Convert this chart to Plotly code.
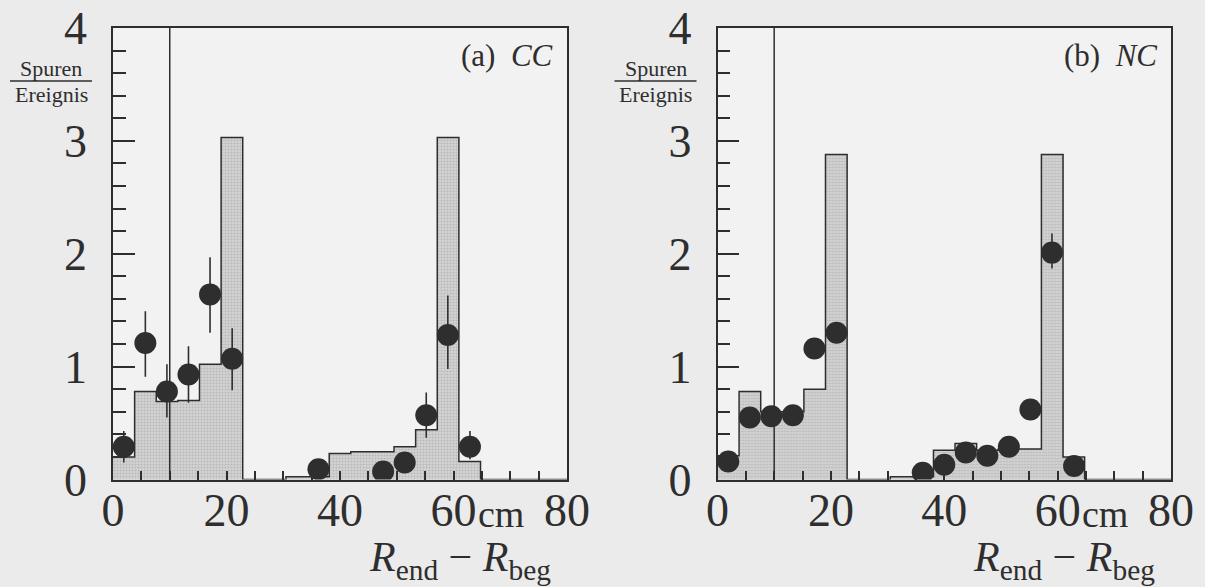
import plotly.graph_objects as go

# ---------------- data ----------------
bin_edges = [0.0, 3.81, 7.62, 11.43, 15.24, 19.05, 22.86, 26.67, 30.48, 34.29, 38.10,
             41.90, 45.71, 49.52, 53.33, 57.14, 60.95, 64.76, 68.57, 72.38, 76.19, 80.0]

cc_hist = [0.20, 0.78, 0.69, 0.70, 1.02, 3.03, 0.0, 0.0, 0.025, 0.025, 0.23,
           0.245, 0.245, 0.29, 0.44, 3.03, 0.16, 0.0, 0.0, 0.0, 0.0]
nc_hist = [0.21, 0.78, 0.60, 0.60, 0.80, 2.88, 0.0, 0.0, 0.025, 0.025, 0.26,
           0.32, 0.26, 0.27, 0.27, 2.88, 0.20, 0.0, 0.0, 0.0, 0.0]

cc_x = [1.9, 5.7, 9.5, 13.3, 17.1, 21.0, 36.2, 47.6, 51.4, 55.2, 59.0, 62.9]
cc_y = [0.29, 1.21, 0.78, 0.93, 1.64, 1.07, 0.09, 0.07, 0.15, 0.57, 1.28, 0.29]
cc_err_plus = [0.14, 0.28, 0.24, 0.25, 0.33, 0.27, 0.04, 0.04, 0.06, 0.20, 0.35, 0.14]
cc_err_minus = [0.14, 0.30, 0.23, 0.25, 0.34, 0.28, 0.04, 0.04, 0.06, 0.20, 0.30, 0.11]

nc_x = [1.9, 5.7, 9.5, 13.3, 17.1, 21.0, 36.2, 40.0, 43.8, 47.6, 51.4, 55.2, 59.0, 62.9]
nc_y = [0.16, 0.55, 0.56, 0.57, 1.16, 1.30, 0.06, 0.13, 0.24, 0.21, 0.29, 0.62, 2.01, 0.12]
nc_err_plus = [0.05, 0.05, 0.05, 0.05, 0.08, 0.08, 0.03, 0.04, 0.05, 0.05, 0.05, 0.06, 0.17, 0.05]
nc_err_minus = [0.05, 0.05, 0.05, 0.05, 0.08, 0.08, 0.03, 0.04, 0.05, 0.05, 0.05, 0.06, 0.14, 0.05]

cut_position = [10]
x_tick_values = [0, 20, 40, 60, 80]
x_tick_labels = ["0", "20", "40", "60", "80"]
y_tick_values = [0, 1, 2, 3, 4]
y_tick_labels = ["0", "1", "2", "3", "4"]
panel_labels = ["(a)  <i>CC</i>", "(b)  <i>NC</i>"]

# ---------------- style ----------------
W, H = 1205, 587
INK = "#2e2e2e"
FONT = "Liberation Serif"
FILL = "#cccccc"

panels = [
    dict(hist=cc_hist, x=cc_x, y=cc_y, ep=cc_err_plus, em=cc_err_minus,
         xdom=[113 / W, 567 / W], label=panel_labels[0]),
    dict(hist=nc_hist, x=nc_x, y=nc_y, ep=nc_err_plus, em=nc_err_minus,
         xdom=[717.5 / W, 1171 / W], label=panel_labels[1]),
]
ydom = [1 - 479.5 / H, 1 - 28 / H]

fig = go.Figure()
centers = [(a + b) / 2 for a, b in zip(bin_edges[:-1], bin_edges[1:])]
widths = [b - a for a, b in zip(bin_edges[:-1], bin_edges[1:])]

for i, p in enumerate(panels):
    xa = "x" if i == 0 else f"x{i+1}"
    ya = "y" if i == 0 else f"y{i+1}"
    # shaded histogram fill
    fig.add_trace(go.Bar(
        x=centers, y=p["hist"], width=widths, xaxis=xa, yaxis=ya,
        marker=dict(color=FILL, line=dict(width=0),
                    pattern=dict(shape=".", fgcolor="#9c9c9c", bgcolor="#d4d4d4",
                                 size=3, solidity=0.4)),
        showlegend=False, hoverinfo="skip"))
    # step outline
    fig.add_trace(go.Scatter(
        x=bin_edges, y=p["hist"] + [p["hist"][-1]], xaxis=xa, yaxis=ya,
        mode="lines", line=dict(shape="hv", color=INK, width=1.5),
        showlegend=False, hoverinfo="skip"))
    # data points
    fig.add_trace(go.Scatter(
        x=p["x"], y=p["y"], xaxis=xa, yaxis=ya, mode="markers",
        marker=dict(size=22, color=INK, line=dict(width=0)),
        error_y=dict(type="data", symmetric=False, array=p["ep"], arrayminus=p["em"],
                     color=INK, thickness=1.6, width=0),
        showlegend=False))
    # vertical cut line
    for c in cut_position:
        fig.add_shape(type="line", xref=xa, yref=f"{ya} domain", x0=c, x1=c, y0=0, y1=1,
                      line=dict(color=INK, width=1.5))

    axis_x = dict(domain=p["xdom"], anchor=ya, range=[0, 80], automargin=False,
                  showline=True, mirror=True, linecolor=INK, linewidth=1.5,
                  showgrid=False, zeroline=False,
                  tickmode="array", tickvals=x_tick_values, ticktext=x_tick_labels,
                  ticks="inside", ticklen=9, tickwidth=1.5, tickcolor=INK,
                  minor=dict(tickmode="linear", tick0=0, dtick=5, ticks="inside",
                             ticklen=9, tickwidth=1.5, tickcolor=INK, showgrid=False),
                  tickfont=dict(family=FONT, size=46, color=INK),
                  ticklabelstandoff=-10)
    axis_y = dict(domain=ydom, anchor=xa, range=[0, 4], automargin=False,
                  showline=True, mirror=True, linecolor=INK, linewidth=1.5,
                  showgrid=False, zeroline=False,
                  tickmode="array", tickvals=y_tick_values, ticktext=y_tick_labels,
                  ticks="inside", ticklen=22, tickwidth=1.5, tickcolor=INK,
                  minor=dict(tickmode="linear", tick0=0, dtick=0.2, ticks="inside",
                             ticklen=13, tickwidth=1.5, tickcolor=INK, showgrid=False),
                  tickfont=dict(family=FONT, size=46, color=INK),
                  ticklabelstandoff=15)
    fig.update_layout(**{("xaxis" if i == 0 else f"xaxis{i+1}"): axis_x,
                         ("yaxis" if i == 0 else f"yaxis{i+1}"): axis_y})

    # panel label
    fig.add_annotation(text=p["label"], xref=f"{xa} domain", yref=f"{ya} domain",
                       x=1, y=1, xanchor="right", yanchor="middle", xshift=-12, yshift=-27,
                       showarrow=False, font=dict(family=FONT, size=31, color=INK))
    # "cm" unit next to 60
    fig.add_annotation(text="cm", xref=xa, yref="paper", x=60, y=1 - 514 / H,
                       xanchor="left", yanchor="middle", xshift=22, showarrow=False,
                       font=dict(family=FONT, size=38, color=INK))
    # x title
    fig.add_annotation(text="<i>R</i><sub>end</sub> − <i>R</i><sub>beg</sub>",
                       xref=f"{xa} domain", yref="paper", x=1, y=1 - 560 / H,
                       xanchor="right", yanchor="middle", xshift=-14, showarrow=False,
                       font=dict(family=FONT, size=42, color=INK))
    # y title as a fraction
    x0 = p["xdom"][0] * W
    cx = x0 - 62
    fig.add_annotation(text="Spuren", xref="paper", yref="paper", x=cx / W, y=1 - 69 / H,
                       xanchor="center", yanchor="middle", showarrow=False,
                       font=dict(family=FONT, size=22, color=INK))
    fig.add_annotation(text="Ereignis", xref="paper", yref="paper", x=cx / W, y=1 - 94 / H,
                       xanchor="center", yanchor="middle", showarrow=False,
                       font=dict(family=FONT, size=22, color=INK))
    fig.add_shape(type="line", xref="paper", yref="paper",
                  x0=(cx - 41) / W, x1=(cx + 41) / W, y0=1 - 81 / H, y1=1 - 81 / H,
                  line=dict(color=INK, width=1.5))

fig.update_layout(width=W, height=H, margin=dict(l=0, r=0, t=0, b=0, pad=0),
                  paper_bgcolor="#ebebeb", plot_bgcolor="#f2f2f2",
                  barmode="overlay", bargap=0, showlegend=False,
                  font=dict(family=FONT, color=INK))

fig.write_html("out.html", config={"displayModeBar": False},
               post_script="document.body.style.margin='0';document.body.style.overflow='hidden';")
